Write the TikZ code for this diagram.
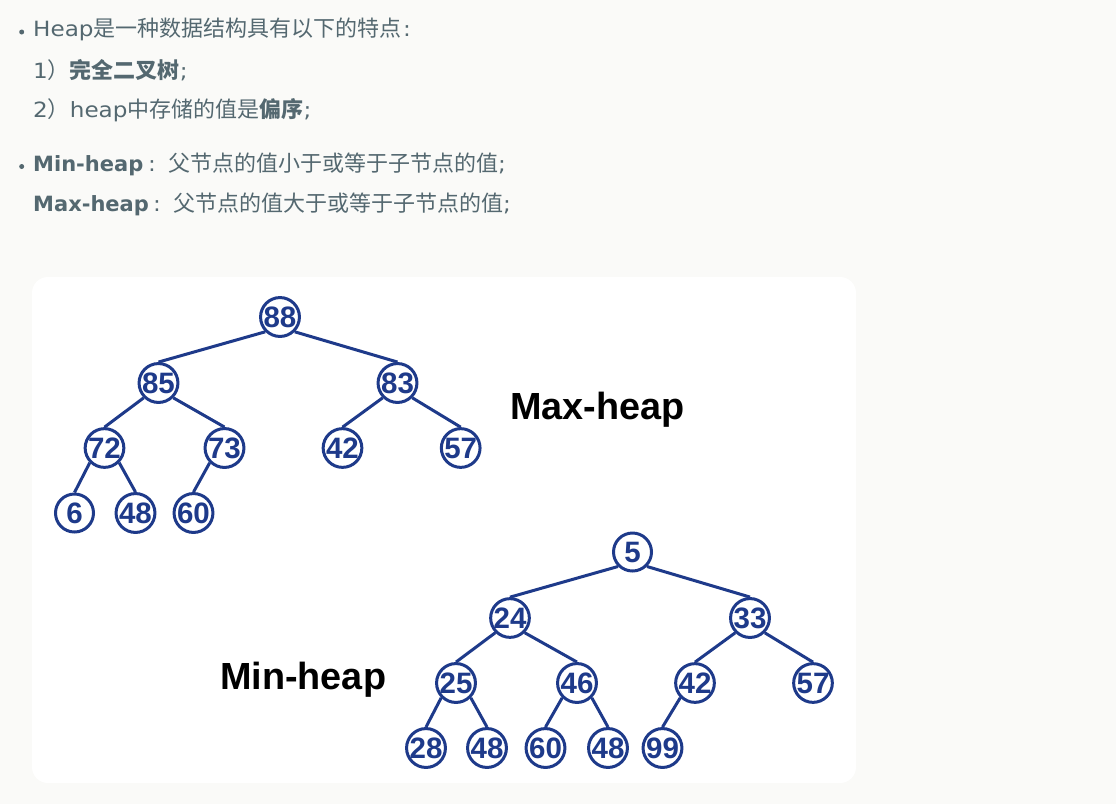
\documentclass[tikz,border=0pt]{standalone}
\usepackage{fontspec}
\setmainfont{DejaVu Sans}[UprightFeatures={FakeStretch=1.1}]
\newfontfamily\cjk{Noto Sans CJK SC}
\newfontfamily\arialf{Liberation Sans}
\definecolor{bgc}{RGB}{250,250,248}
\definecolor{txtc}{RGB}{84,104,112}
\definecolor{heapblue}{RGB}{30,58,138}
\newcommand\zh[1]{{\cjk\fontsize{22}{22}\selectfont #1}}
\newcommand\zhb[1]{{\cjk\bfseries\fontsize{22}{22}\selectfont #1}}
\tikzset{
  hn/.style={circle, draw=heapblue, line width=3pt, minimum size=38pt, inner sep=0pt,
    fill=white, text=heapblue, font=\arialf\bfseries\fontsize{29.5}{29.5}\selectfont},
  hline/.style={draw=heapblue, line width=3pt},
  txt/.style={anchor=base west, inner sep=0pt, text=txtc, font=\fontsize{21}{21}\selectfont},
  bigl/.style={anchor=base west, inner sep=0pt, text=black, font=\arialf\bfseries\fontsize{37.8}{37.8}\selectfont},
  bul/.style={circle, fill=txtc, inner sep=0pt, minimum size=5pt}
}
\begin{document}
\begin{tikzpicture}[x=1pt,y=-1pt]
\fill[bgc] (0,0) rectangle (1116,804);
\useasboundingbox (0,0) rectangle (1116,804);
\fill[white, rounded corners=16pt] (32,277) rectangle (856,783);

% text block
\node[bul] (b1) at (21.7,32) {};
\node[txt] (t1) at (33,36.7) {Heap\zh{是一种数据结构具有以下的特点}};
\node[txt] (t1c) at (403,36.7) {:};
\node[txt] (t2) at (33,78) {1\zh{）}\zhb{完全二叉树};};
\node[txt] (t3) at (33,117.5) {2\zh{）}heap\zh{中存储的值是}\zhb{偏序};};
\node[bul] (b2) at (21.7,166.5) {};
\node[txt] (t4) at (33,171.7) {\bfseries Min-heap};
\node[txt] (t4c) at (148,171.7) {:};
\node[txt] (t4b) at (168,171.7) {\zh{父节点的值小于或等于子节点的值};};
\node[txt] (t5) at (33,211.7) {\bfseries Max-heap};
\node[txt] (t5c) at (153,211.7) {:};
\node[txt] (t5b) at (173,211.7) {\zh{父节点的值大于或等于子节点的值};};

% Max-heap
\node[hn] (a88) at (280,317) {88};
\node[hn] (a85) at (158.5,383) {85};
\node[hn] (a83) at (397.5,383) {83};
\node[hn] (a72) at (104.5,448) {72};
\node[hn] (a73) at (224.5,448) {73};
\node[hn] (a42) at (342.5,448) {42};
\node[hn] (a57) at (460.7,448) {57};
\node[hn] (a6) at (74.5,513) {6};
\node[hn] (a48) at (135.5,513) {48};
\node[hn] (a60) at (193.5,513) {60};
\draw[hline] (a88.south west) -- (a85.north);
\draw[hline] (a88.south east) -- (a83.north);
\draw[hline] (a85.south west) -- (a72.north);
\draw[hline] (a85.south east) -- (a73.north);
\draw[hline] (a83.south west) -- (a42.north);
\draw[hline] (a83.south east) -- (a57.north);
\draw[hline] (a72.south west) -- (a6.north);
\draw[hline] (a72.south east) -- (a48.north);
\draw[hline] (a73.south west) -- (a60.north);
\node[bigl] (maxl) at (510,419.3) {Max-heap};

% Min-heap
\node[hn] (m5) at (632.5,552) {5};
\node[hn] (m24) at (510,618) {24};
\node[hn] (m33) at (750,618) {33};
\node[hn] (m25) at (456,683) {25};
\node[hn] (m46) at (577,683) {46};
\node[hn] (m42) at (695,683) {42};
\node[hn] (m57) at (813,683) {57};
\node[hn] (m28) at (426,748) {28};
\node[hn] (m48a) at (487,748) {48};
\node[hn] (m60) at (545.5,748) {60};
\node[hn] (m48b) at (608,748) {48};
\node[hn] (m99) at (662.5,748) {99};
\draw[hline] (m5.south west) -- (m24.north);
\draw[hline] (m5.south east) -- (m33.north);
\draw[hline] (m24.south west) -- (m25.north);
\draw[hline] (m24.south east) -- (m46.north);
\draw[hline] (m33.south west) -- (m42.north);
\draw[hline] (m33.south east) -- (m57.north);
\draw[hline] (m25.south west) -- (m28.north);
\draw[hline] (m25.south east) -- (m48a.north);
\draw[hline] (m46.south west) -- (m60.north);
\draw[hline] (m46.south east) -- (m48b.north);
\draw[hline] (m42.south west) -- (m99.north);
\node[bigl] (minl) at (220,689.3) {Min-heap};
\end{tikzpicture}
\end{document}
